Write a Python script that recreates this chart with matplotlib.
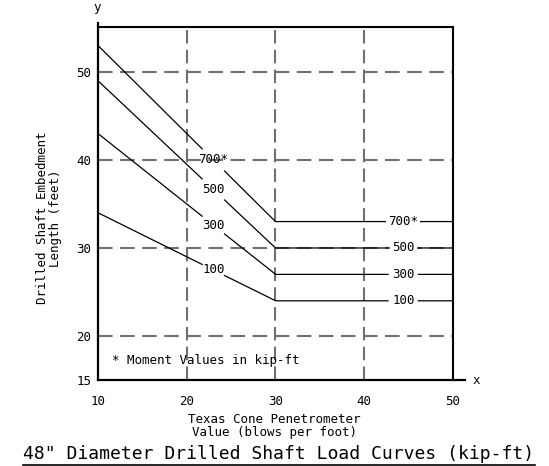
import matplotlib
matplotlib.use("Agg")
import matplotlib.pyplot as plt
from matplotlib.lines import Line2D
import numpy as np

# Drilled shaft embedment length (ft) vs TCP blow count, per moment value
tcp_points = [10, 30, 50]
moment_labels = ["100", "300", "500", "700*"]
length_100 = [34, 24, 24]
length_300 = [43, 27, 27]
length_500 = [49, 30, 30]
length_700 = [53, 33, 33]
x_ticks = [10, 20, 30, 40, 50]
y_ticks = [15, 20, 30, 40, 50]

# where the inline labels sit along the curves
label_x_slope = 23.0
label_x_flat = 44.4

plt.rcParams['font.family'] = ['DejaVu Sans Mono', 'DejaVu Sans']

fig = plt.figure(figsize=(5.49, 4.66), dpi=100)
ax = fig.add_axes([0.1785, 0.1845, 0.6466, 0.7575])
ax.set_xlim(10, 50)
ax.set_ylim(15, 55.1)

# dashed grid
for gx in x_ticks[1:-1]:
    ax.axvline(gx, color='#707070', lw=1.5, ls=(0, (6.5, 3.0)), zorder=1)
for gy in y_ticks[1:]:
    ax.axhline(gy, color='#707070', lw=1.5, ls=(0, (7.0, 3.6)), zorder=1)

curves = [length_100, length_300, length_500, length_700]
xs = np.linspace(10, 50, 2001)
for name, ys in zip(moment_labels, curves):
    yy = np.interp(xs, tcp_points, ys)
    # break the line where the labels go
    gap = (np.abs(xs - label_x_slope) < 1.25) | (np.abs(xs - label_x_flat) < 1.7)
    yy = np.where(gap, np.nan, yy)
    ax.plot(xs, yy, color='black', lw=0.9, zorder=3)
    ax.text(label_x_slope, np.interp(label_x_slope, tcp_points, ys), name,
            ha='center', va='center', fontsize=9, zorder=4)
    ax.text(label_x_flat, np.interp(label_x_flat, tcp_points, ys), name,
            ha='center', va='center', fontsize=9, zorder=4,
            bbox=dict(facecolor='white', edgecolor='none', pad=1.5))

ax.text(11.6, 17.2, "* Moment Values in kip-ft", ha='left', va='center', fontsize=9)

# axes frame: left and bottom drawn a little past the box
for s in ['left', 'bottom']:
    ax.spines[s].set_visible(False)
for s in ['top', 'right']:
    ax.spines[s].set_linewidth(1.5)
ax.plot([0, 0], [0, 1.012], transform=ax.transAxes, color='black', lw=1.6, clip_on=False, zorder=5)
ax.plot([0, 1.035], [0, 0], transform=ax.transAxes, color='black', lw=1.6, clip_on=False, zorder=5)

ax.set_xticks(x_ticks)
ax.set_yticks(y_ticks)
ax.tick_params(length=0, labelsize=9)
ax.tick_params(axis='x', pad=11)
ax.tick_params(axis='y', pad=5)

fig.text(97 / 549, 1 - 8 / 466, "y", ha='center', va='center', fontsize=9)
fig.text(476 / 549, 1 - 381 / 466, "x", ha='center', va='center', fontsize=9)

fig.text(274 / 549, 1 - 426 / 466, "Texas Cone Penetrometer\nValue (blows per foot)",
         ha='center', va='center', fontsize=9, linespacing=0.95)
fig.text(49 / 549, 1 - 218 / 466, "Drilled Shaft Embedment\nLength (feet)",
         ha='center', va='center', rotation=90, fontsize=9, linespacing=0.95,
         multialignment='center')

title = fig.text(279 / 549, 1 - 454 / 466, '48" Diameter Drilled Shaft Load Curves (kip-ft)',
                 ha='center', va='center', fontsize=13)

# underline the title
fig.canvas.draw()
bb = title.get_window_extent()
inv = fig.transFigure.inverted()
(x0, y0), (x1, _) = inv.transform([(bb.x0, bb.y0), (bb.x1, bb.y1)])
fig.add_artist(Line2D([x0, x1], [y0 - 0.004, y0 - 0.004], color='black', lw=1.2,
                      transform=fig.transFigure))

fig.savefig("out.png", dpi=100)
